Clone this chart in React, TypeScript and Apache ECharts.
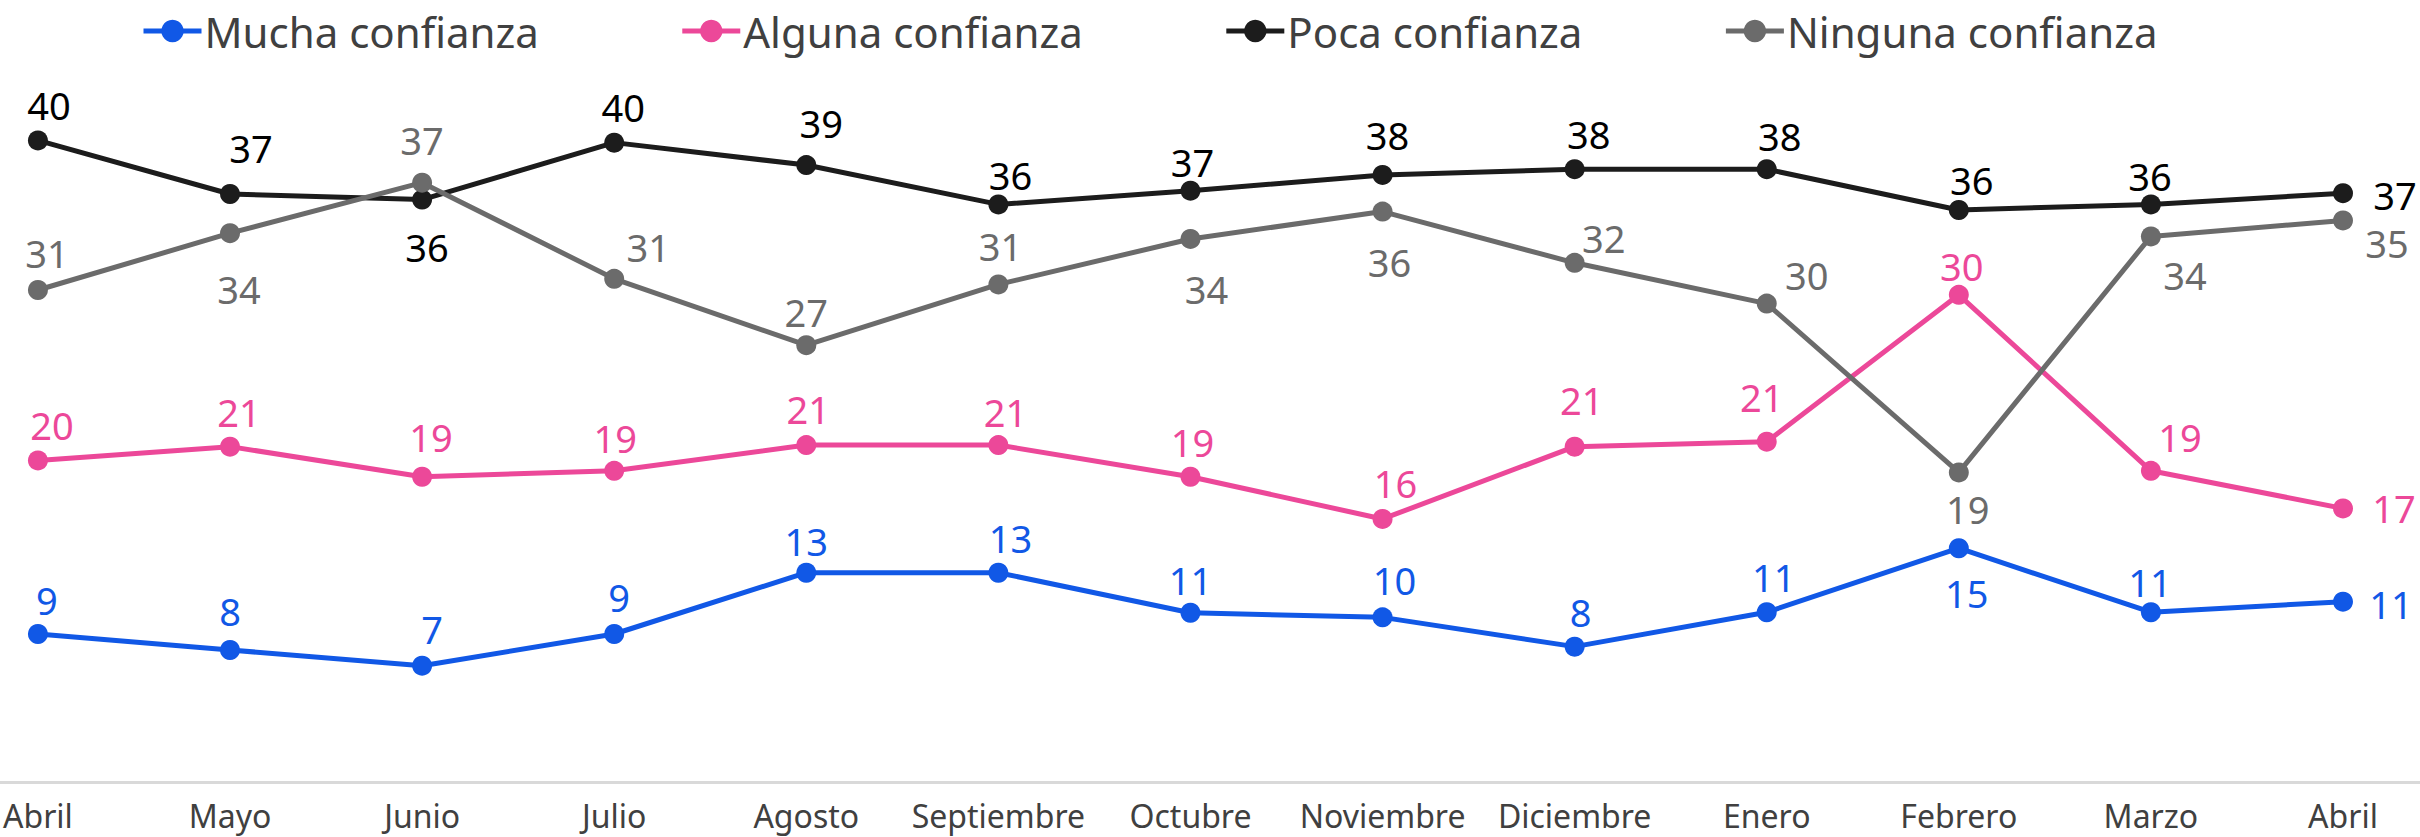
import React, { useEffect, useRef } from "react";
import * as echarts from "echarts";

const months = ["Abril", "Mayo", "Junio", "Julio", "Agosto", "Septiembre", "Octubre", "Noviembre", "Diciembre", "Enero", "Febrero", "Marzo", "Abril"];

const mucha = [9.25, 8.25, 7.27, 9.25, 13.08, 13.08, 10.58, 10.29, 8.46, 10.61, 14.61, 10.61, 11.27];
const alguna = [20.1, 20.96, 19.08, 19.45, 21.06, 21.06, 19.08, 16.44, 20.96, 21.27, 30.45, 19.45, 17.1];
const poca = [40.1, 36.75, 36.4, 39.96, 38.56, 36.1, 36.96, 37.94, 38.3, 38.3, 35.75, 36.1, 36.8];
const ninguna = [30.75, 34.3, 37.46, 31.45, 27.3, 31.1, 33.94, 35.65, 32.45, 29.9, 19.35, 34.1, 35.1];

// label placement (offset of label centre from point centre, px)
const muchaOff = [[9, -34], [0, -39], [10, -37], [5, -37], [0, -32], [12, -35], [0, -33], [12, -37], [6, -35], [7, -35], [8, 45], [-1, -30], [48, 2]];
const algunaOff = [[14, -35], [9, -35], [9, -40], [1, -33], [2, -36], [7, -33], [2, -35], [13, -36], [7, -47], [-5, -45], [3, -29], [29, -34], [51, 0]];
const pocaOff = [[11, -35], [21, -46], [5, 47], [9, -36], [15, -42], [12, -29], [2, -29], [5, -40], [14, -35], [13, -33], [13, -30], [-1, -28], [52, 2]];
const ningunaOff = [[9, -37], [9, 56], [0, -43], [34, -32], [0, -33], [2, -38], [16, 50], [7, 50], [29, -25], [40, -29], [9, 37], [34, 39], [44, 23]];

const FONT = "Noto Sans";

function mk(name: string, values: number[], color: string, offs: number[][], labelColor: string) {
  return {
    type: "line",
    name,
    xAxisIndex: 0,
    yAxisIndex: 0,
    data: values.map((v, i) => ({ value: v, label: { offset: offs[i] } })),
    symbol: "circle",
    symbolSize: 20,
    lineStyle: { width: 5, color },
    itemStyle: { color },
    label: {
      show: true,
      position: "inside",
      formatter: (p: any) => String(Math.round(p.value)),
      fontSize: 38,
      fontFamily: FONT,
      color: labelColor,
    },
    emphasis: { disabled: true },
  };
}

export default function App() {
  const ref = useRef<HTMLDivElement>(null);
  useEffect(() => {
    document.body.style.margin = "0";
    const chart = echarts.init(ref.current!, null, { renderer: "svg" });
    chart.setOption({
      animation: false,
      backgroundColor: "#ffffff",
      textStyle: { fontFamily: FONT },
      legend: {
        left: 136,
        top: 5,
        itemWidth: 58,
        itemHeight: 28,
        itemGap: 141,
        lineStyle: { width: 5 },
        textStyle: { fontSize: 42, color: "#404040", fontFamily: FONT, padding: [0, 0, 0, -2] },
        data: ["Mucha confianza", "Alguna confianza", "Poca confianza", "Ninguna confianza"],
      },
      grid: [
        { left: 35, right: 77, top: 62, bottom: 55 },
        { left: 0, right: 0, top: 62, bottom: 55 },
      ],
      xAxis: [
        {
          type: "category",
          gridIndex: 0,
          data: months,
          boundaryGap: false,
          axisLine: { show: false },
          axisTick: { show: false },
          axisLabel: { fontSize: 32, color: "#404040", fontFamily: FONT, margin: 17, interval: 0 },
          splitLine: { show: false },
        },
        {
          type: "value",
          gridIndex: 1,
          min: 0,
          max: 1,
          axisLine: { show: true, lineStyle: { color: "#d9d9d9", width: 3 } },
          axisTick: { show: false },
          axisLabel: { show: false },
          splitLine: { show: false },
        },
      ],
      yAxis: [
        { type: "value", gridIndex: 0, min: 0, max: 45, show: false, splitLine: { show: false } },
        { type: "value", gridIndex: 1, min: 0, max: 1, show: false, splitLine: { show: false } },
      ],
      series: [
        mk("Mucha confianza", mucha, "#1158E6", muchaOff, "#1158E6"),
        mk("Alguna confianza", alguna, "#EC4899", algunaOff, "#EC4899"),
        mk("Poca confianza", poca, "#1c1c1c", pocaOff, "#000000"),
        mk("Ninguna confianza", ninguna, "#6b6b6b", ningunaOff, "#6b6b6b"),
      ],
    });
    return () => chart.dispose();
  }, []);
  return <div ref={ref} style={{ width: 2420, height: 837 }} />;
}
